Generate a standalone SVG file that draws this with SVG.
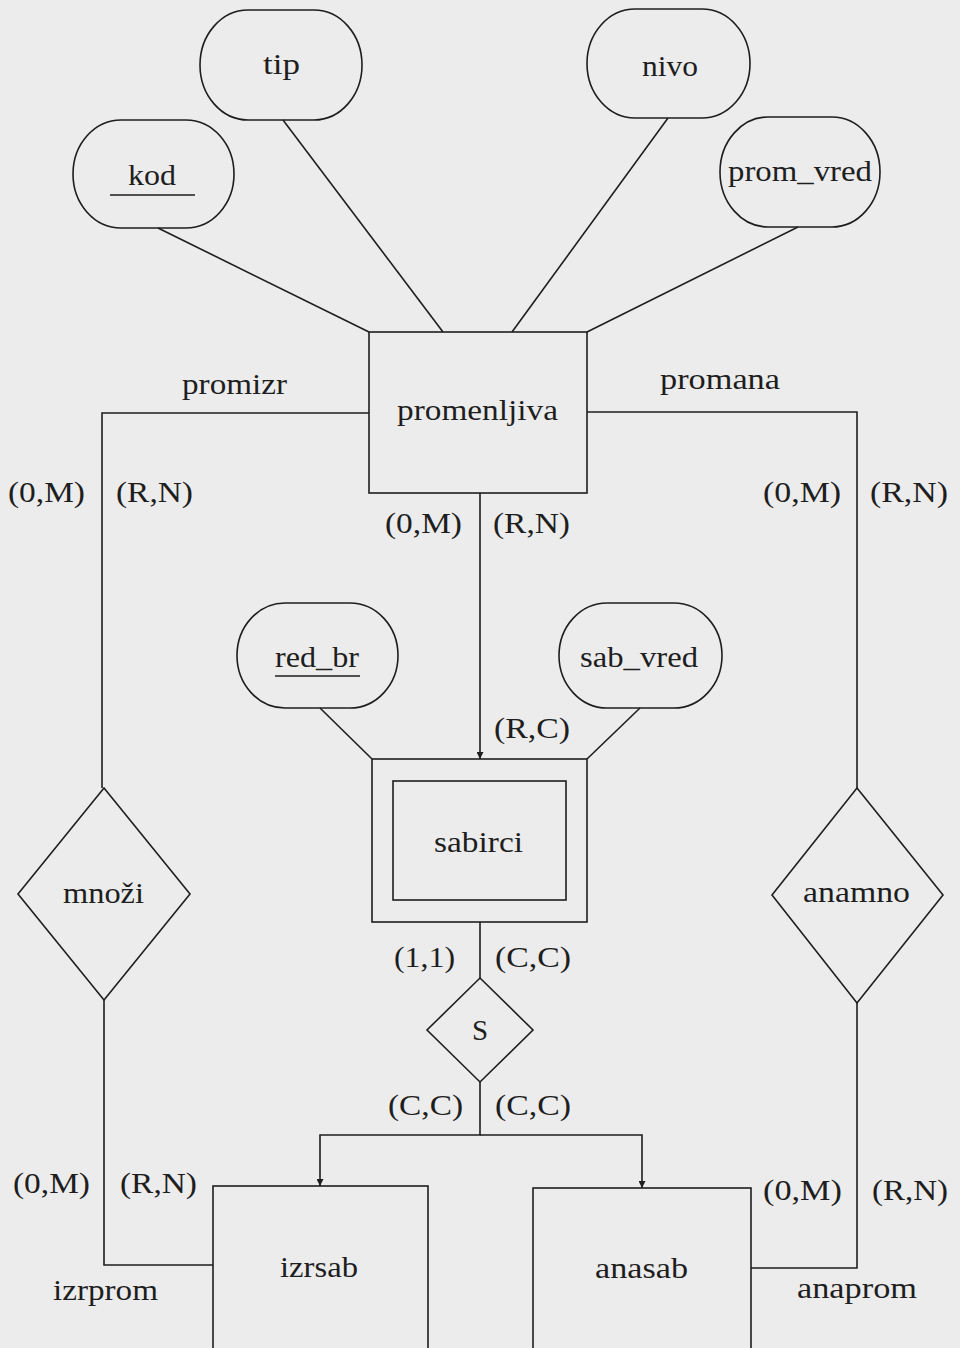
<svg xmlns="http://www.w3.org/2000/svg" width="960" height="1348" viewBox="0 0 960 1348">
<defs>
<style>
.s{fill:none;stroke:#1e1e1e;stroke-width:1.6}
.t{font-family:"Liberation Serif","Times New Roman",serif;font-size:29px;fill:#1e1e1e;lengthAdjust:spacingAndGlyphs}
.c{text-anchor:middle}
</style>
<marker id="ah" viewBox="0 0 10 10" refX="10" refY="5" markerWidth="7" markerHeight="7" orient="auto" markerUnits="userSpaceOnUse">
<path d="M0,0 L10,5 L0,10 z" fill="#1e1e1e"/>
</marker>
</defs>
<rect width="960" height="1348" fill="#ececec"/>
<g id="connectors">
<line class="s" x1="158" y1="228" x2="369" y2="332"/>
<line class="s" x1="283" y1="120" x2="443" y2="332"/>
<line class="s" x1="668" y1="118" x2="512" y2="332"/>
<line class="s" x1="798" y1="227" x2="587" y2="332"/>
<polyline class="s" points="369,413 102,413 102,788"/>
<polyline class="s" points="104,1000 104,1265 213,1265"/>
<polyline class="s" points="587,412 857,412 857,788"/>
<polyline class="s" points="857,1003 857,1268 751,1268"/>
<line class="s" x1="480" y1="493" x2="480" y2="759" marker-end="url(#ah)"/>
<line class="s" x1="320" y1="708" x2="372" y2="759"/>
<line class="s" x1="640" y1="708" x2="587" y2="759"/>
<line class="s" x1="480" y1="922" x2="480" y2="978"/>
<polyline class="s" points="480,1082 480,1135 320,1135 320,1186" marker-end="url(#ah)"/>
<polyline class="s" points="480,1135 642,1135 642,1188" marker-end="url(#ah)"/>
<text class="t" x="182" y="394" textLength="105" lengthAdjust="spacingAndGlyphs">promizr</text>
<text class="t" x="660" y="389" textLength="120" lengthAdjust="spacingAndGlyphs">promana</text>
<text class="t" x="8" y="502" textLength="77" lengthAdjust="spacingAndGlyphs">(0,M)</text>
<text class="t" x="116" y="502" textLength="77" lengthAdjust="spacingAndGlyphs">(R,N)</text>
<text class="t" x="763" y="502" textLength="78" lengthAdjust="spacingAndGlyphs">(0,M)</text>
<text class="t" x="870" y="502" textLength="78" lengthAdjust="spacingAndGlyphs">(R,N)</text>
<text class="t" x="385" y="533" textLength="77" lengthAdjust="spacingAndGlyphs">(0,M)</text>
<text class="t" x="493" y="533" textLength="77" lengthAdjust="spacingAndGlyphs">(R,N)</text>
<text class="t" x="494" y="738" textLength="76" lengthAdjust="spacingAndGlyphs">(R,C)</text>
<text class="t" x="394" y="967" textLength="61" lengthAdjust="spacingAndGlyphs">(1,1)</text>
<text class="t" x="495" y="967" textLength="76" lengthAdjust="spacingAndGlyphs">(C,C)</text>
<text class="t" x="388" y="1115" textLength="75" lengthAdjust="spacingAndGlyphs">(C,C)</text>
<text class="t" x="495" y="1115" textLength="76" lengthAdjust="spacingAndGlyphs">(C,C)</text>
<text class="t" x="13" y="1193" textLength="77" lengthAdjust="spacingAndGlyphs">(0,M)</text>
<text class="t" x="120" y="1193" textLength="77" lengthAdjust="spacingAndGlyphs">(R,N)</text>
<text class="t" x="763" y="1200" textLength="79" lengthAdjust="spacingAndGlyphs">(0,M)</text>
<text class="t" x="872" y="1200" textLength="76" lengthAdjust="spacingAndGlyphs">(R,N)</text>
<text class="t" x="53" y="1300" textLength="105" lengthAdjust="spacingAndGlyphs">izrprom</text>
<text class="t" x="797" y="1298" textLength="120" lengthAdjust="spacingAndGlyphs">anaprom</text>
</g>
<g id="tip">
<rect class="s" x="200" y="10" width="162" height="110" rx="48" ry="55"/>
<text class="t" x="263" y="74" textLength="37" lengthAdjust="spacingAndGlyphs">tip</text>
</g>
<g id="kod">
<rect class="s" x="73" y="120" width="161" height="108" rx="48" ry="54"/>
<text class="t" x="128" y="185" textLength="48" lengthAdjust="spacingAndGlyphs">kod</text>
<line class="s" x1="110" y1="195" x2="195" y2="195"/>
</g>
<g id="nivo">
<rect class="s" x="587" y="9" width="163" height="109" rx="48" ry="54.5"/>
<text class="t" x="642" y="76" textLength="56" lengthAdjust="spacingAndGlyphs">nivo</text>
</g>
<g id="prom_vred">
<rect class="s" x="720" y="117" width="160" height="110" rx="48" ry="55"/>
<text class="t" x="728" y="181" textLength="144" lengthAdjust="spacingAndGlyphs">prom_vred</text>
</g>
<g id="promenljiva">
<rect class="s" x="369" y="332" width="218" height="161"/>
<text class="t" x="397" y="420" textLength="161" lengthAdjust="spacingAndGlyphs">promenljiva</text>
</g>
<g id="red_br">
<rect class="s" x="237" y="603" width="161" height="105" rx="48" ry="52.5"/>
<text class="t" x="275" y="667" textLength="84" lengthAdjust="spacingAndGlyphs">red_br</text>
<line class="s" x1="275" y1="676" x2="360" y2="676"/>
</g>
<g id="sab_vred">
<rect class="s" x="559" y="603" width="163" height="105" rx="48" ry="52.5"/>
<text class="t" x="580" y="667" textLength="118" lengthAdjust="spacingAndGlyphs">sab_vred</text>
</g>
<g id="sabirci">
<rect class="s" x="372" y="759" width="215" height="163"/>
<rect class="s" x="393" y="781" width="173" height="119"/>
<text class="t" x="434" y="852" textLength="89" lengthAdjust="spacingAndGlyphs">sabirci</text>
</g>
<g id="mnozi">
<polygon class="s" points="104,788 190,894 104,1000 18,894"/>
<text class="t" x="63" y="903" textLength="81" lengthAdjust="spacingAndGlyphs">množi</text>
</g>
<g id="anamno">
<polygon class="s" points="857,788 943,895 857,1003 772,895"/>
<text class="t" x="803" y="902" textLength="107" lengthAdjust="spacingAndGlyphs">anamno</text>
</g>
<g id="S">
<polygon class="s" points="480,978 533,1030 480,1082 427,1030"/>
<text class="t c" x="480" y="1040">S</text>
</g>
<g id="izrsab">
<rect class="s" x="213" y="1186" width="215" height="170"/>
<text class="t" x="280" y="1277" textLength="78" lengthAdjust="spacingAndGlyphs">izrsab</text>
</g>
<g id="anasab">
<rect class="s" x="533" y="1188" width="218" height="170"/>
<text class="t" x="595" y="1278" textLength="93" lengthAdjust="spacingAndGlyphs">anasab</text>
</g>
</svg>
